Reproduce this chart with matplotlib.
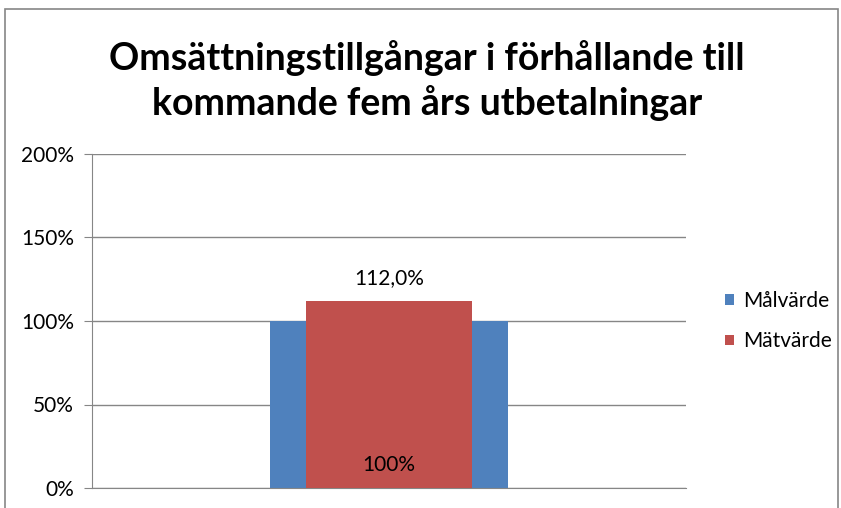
import matplotlib
matplotlib.use("Agg")
import matplotlib.pyplot as plt
from matplotlib.patches import Rectangle
from matplotlib.ticker import FuncFormatter

# Data
kategori = [""]
malvarde = [1.00]
matvarde = [1.12]
serier = ["Målvärde", "Mätvärde"]
farger = ["#4F81BD", "#C0504D"]
yticks = [0, 0.5, 1.0, 1.5, 2.0]

plt.rcParams["font.family"] = ["Lato", "DejaVu Sans"]

W, H = 841, 508
fig = plt.figure(figsize=(W / 100, H / 100), dpi=100)

# chart frame
fig.patches.append(Rectangle((5 / W, -0.05), 833 / W, 1.05 - 9 / H,
                             transform=fig.transFigure, fill=False,
                             edgecolor="#868686", linewidth=1.2))

fig.text(427 / W, 1 - 58 / H, "Omsättningstillgångar i förhållande till",
         ha="center", va="center", fontsize=27, fontweight="bold")
fig.text(427 / W, 1 - 103 / H, "kommande fem års utbetalningar",
         ha="center", va="center", fontsize=27, fontweight="bold")

ax = fig.add_axes([92 / W, 20 / H, 594 / W, 334 / H])
x = range(len(kategori))
b1 = ax.bar(x, malvarde, width=0.4, color=farger[0], label=serier[0], zorder=2)
b2 = ax.bar(x, matvarde, width=0.278, color=farger[1], label=serier[1], zorder=3)

ax.set_xlim(-0.5, 0.5)
ax.set_ylim(0, 2.0)
ax.set_yticks(yticks)
ax.yaxis.set_major_formatter(FuncFormatter(lambda v, p: f"{v * 100:.0f}%"))
ax.set_xticks([])
ax.grid(axis="y", color="#868686", linewidth=1, zorder=0)
for s in ["top", "right"]:
    ax.spines[s].set_visible(False)
ax.spines["left"].set_color("#868686")
ax.spines["bottom"].set_color("#868686")
ax.tick_params(axis="y", colors="#868686", labelcolor="black", length=6,
               labelsize=15, pad=7)

# data labels
for xi, v in zip(x, matvarde):
    ax.text(xi, v + 0.135, f"{v * 100:.1f}%".replace(".", ","),
            ha="center", va="center", fontsize=15, zorder=4)
for xi, v in zip(x, malvarde):
    ax.text(xi, 0.14, f"{v * 100:.0f}%", ha="center", va="center",
            fontsize=15, zorder=4)

leg = fig.legend(handles=[b1, b2], labels=serier, loc="center left",
                 bbox_to_anchor=(717 / W, 1 - 321 / H), frameon=False,
                 borderaxespad=0, fontsize=15, handlelength=0.42,
                 handleheight=0.42, handletextpad=0.43, labelspacing=1.0)

fig.savefig("out.png", dpi=100)
